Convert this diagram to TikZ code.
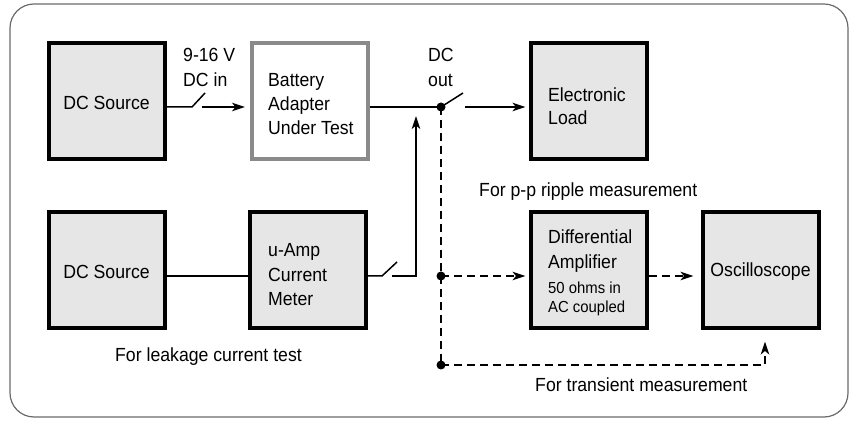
\documentclass[tikz,border=0pt]{standalone}
\usepackage{fontspec}
\setmainfont{Liberation Sans}[FakeStretch=0.93]
\usetikzlibrary{arrows.meta}
\definecolor{boxgray}{HTML}{E6E6E6}
\definecolor{dutgray}{HTML}{8A8A8A}
\definecolor{framegray}{HTML}{6A6A6A}
\begin{document}
\begin{tikzpicture}[x=1pt,y=-1pt,
  box/.style={draw=black, line width=4pt, fill=boxgray, minimum width=116pt, minimum height=116pt, inner sep=0pt},
  dut/.style={box, draw=dutgray, fill=white},
  lbl/.style={inner sep=0pt, font=\fontsize{19}{24}\selectfont, align=left},
  small/.style={inner sep=0pt, font=\fontsize{16}{19}\selectfont, align=left},
  wire/.style={line width=1.5pt},
  tip/.style={-{Stealth[length=13pt,width=8.5pt,inset=3.5pt]}},
  arr/.style={wire, tip},
  dsh/.style={wire, dash pattern=on 8pt off 5pt},
  dot/.style={circle, fill=black, minimum size=9pt, inner sep=0pt}]
\useasboundingbox (0,0) rectangle (849,427);
\draw[framegray, line width=1.2pt, rounded corners=24pt] (10,4) rectangle (848,417);

% boxes
\node[box] (src1) at (106.5,101.5) {};
\node[dut] (bat) at (310,101.5) {};
\node[box] (load) at (588.5,101.5) {};
\node[box] (src2) at (106.5,270.5) {};
\node[box] (meter) at (308,270.5) {};
\node[box] (diff) at (588.5,270.5) {};
\node[box] (osc) at (760.5,270.5) {};

% box texts
\node[lbl, anchor=base] (t1) at (106.5,109.8) {DC Source};
\node[lbl, anchor=west] (t2) at (268,104) {Battery\\Adapter\\Under Test};
\node[lbl, anchor=west, font=\fontsize{19}{23}\selectfont] (t3) at (548,106.5) {Electronic\\Load};
\node[lbl, anchor=base] (t4) at (106.5,278.8) {DC Source};
\node[lbl, anchor=west, font=\fontsize{19}{24.5}\selectfont] (t5) at (268,275) {u-Amp\\Current\\Meter};
\node[lbl, anchor=west, font=\fontsize{19}{25}\selectfont] (t6) at (548,251.5) {Differential\\Amplifier};
\node[small, anchor=west] (t7) at (548,299.3) {50 ohms in\\AC coupled};
\node[lbl, anchor=base] (t8) at (760.5,276.8) {Oscilloscope};

% labels
\node[lbl, anchor=base west] (l1) at (183,61.8) {9-16 V};
\node[lbl, anchor=base west] (l2) at (183,86.8) {DC in};
\node[lbl, anchor=base west] (l3) at (428,61.8) {DC};
\node[lbl, anchor=base west] (l4) at (428,86.8) {out};
\node[lbl, anchor=base west] (c1) at (479,196.8) {For p-p ripple measurement};
\node[lbl, anchor=base west] (c2) at (115,361.8) {For leakage current test};
\node[lbl, anchor=base west] (c3) at (535,391.8) {For transient measurement};

% coordinates
\coordinate (sw1a) at (192,107);
\coordinate (sw1b) at (205,93);
\coordinate (sw1c) at (202,107);
\coordinate (j1) at (441,107);
\coordinate (sw2b) at (463,93);
\coordinate (sw2c) at (465,107);
\coordinate (sw3a) at (382,276);
\coordinate (sw3b) at (397,262);
\coordinate (sw3c) at (392,276);
\coordinate (bend) at (416,276);
\coordinate (vtip) at (416,116);
\coordinate (j2) at (441,276);
\coordinate (j3) at (441,365);
\coordinate (tc) at (765,365);

% solid wiring
\draw[wire] (src1.east |- sw1a) -- (sw1a) -- (sw1b);
\draw[arr, shorten >=5pt] (sw1c) -- (bat.west |- sw1c);
\draw[wire] (bat.east |- j1) -- (j1);
\draw[wire] (j1) -- (sw2b);
\draw[arr, shorten >=3pt] (sw2c) -- (load.west |- sw2c);
\draw[wire] ([yshift=-5.5pt]src2.east) -- ([yshift=-5.5pt]meter.west);
\draw[wire] ([yshift=-5.5pt]meter.east) -- (sw3a) -- (sw3b);
\draw[arr] (sw3c) -- (bend) -- (vtip);

% dashed wiring
\draw[dsh] (j1) -- (j3);
\draw[dsh, tip, shorten >=3pt] (j2) -- (diff.west |- j2);
\draw[dsh, tip, shorten >=7pt] ([yshift=-5.5pt]diff.east) -- ([yshift=-5.5pt]osc.west);
\draw[dsh, tip, shorten >=11pt] (j3) -- (tc) -- (osc.south -| tc);

% junction dots
\node[dot] (d1) at (j1) {};
\node[dot] (d2) at (j2) {};
\node[dot] (d3) at (j3) {};
\end{tikzpicture}
\end{document}
